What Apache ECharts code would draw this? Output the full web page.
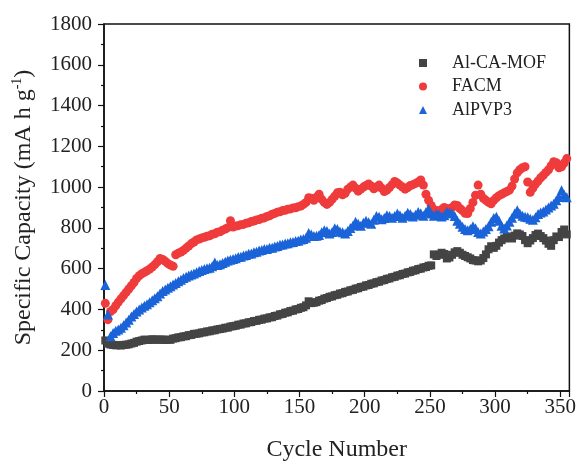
<!DOCTYPE html>
<html>
<head>
<meta charset="utf-8">
<script src="https://cdn.jsdelivr.net/npm/echarts@6/dist/echarts.min.js"></script>
<style>
  html, body { margin: 0; padding: 0; background: #fff; }
  #chart { width: 579px; height: 467px; }
</style>
</head>
<body>
<div id="chart"></div>
<script>
  'use strict'

  // one reading every 2 cycles, starting at cycle 1 (1, 3, 5 ... 355)
  const FIRST_CYCLE = 1
  const CYCLE_STEP = 2

  const SERIES_NAMES = ['Al-CA-MOF', 'FACM', 'AlPVP3']

  const AL_CA_MOF = [
    248, 232, 228, 226, 224, 225, 223, 226, 227, 229,
    233, 236, 242, 245, 248, 252, 251, 250, 254, 252,
    251, 253, 252, 250, 252, 251, 257, 259, 263, 264,
    268, 269, 274, 275, 280, 281, 283, 287, 288, 292,
    293, 297, 298, 302, 304, 306, 310, 311, 316, 318,
    320, 325, 326, 331, 332, 337, 338, 343, 344, 349,
    350, 355, 356, 361, 362, 368, 370, 376, 378, 384,
    386, 392, 394, 400, 402, 408, 411, 420, 440, 431,
    433, 436, 443, 446, 453, 456, 462, 464, 470, 472,
    478, 480, 486, 488, 494, 496, 502, 504, 510, 512,
    518, 520, 526, 528, 534, 536, 542, 544, 550, 552,
    558, 560, 566, 568, 574, 576, 582, 584, 590, 592,
    598, 600, 606, 608, 614, 616, 670, 662, 668, 678,
    672, 650, 655, 668, 680, 686, 678, 668, 662, 656,
    650, 642, 640, 636, 640, 652, 670, 695, 710, 702,
    712, 728, 740, 748, 758, 752, 748, 762, 773, 768,
    760, 740, 725, 738, 750, 765, 772, 760, 750, 738,
    722, 712, 740, 758, 755, 780, 792, 768
  ]

  const FACM = [
    430, 350, 390, 400, 418, 436, 452, 468, 484, 500,
    516, 532, 552, 565, 575, 582, 590, 598, 608, 620,
    634, 650, 645, 636, 625, 618, 612, 668, 676, 682,
    690, 701, 711, 723, 731, 741, 745, 751, 754, 759,
    761, 769, 771, 779, 781, 789, 794, 801, 835, 804,
    809, 811, 816, 817, 823, 825, 831, 834, 839, 841,
    847, 849, 856, 859, 867, 871, 877, 879, 885, 886,
    892, 893, 898, 899, 904, 907, 915, 925, 948, 945,
    935, 950, 965, 940, 925, 915, 925, 940, 955, 972,
    975, 962, 970, 990, 1000, 1010, 995, 980, 990, 1000,
    1008, 1015, 1005, 992, 1000, 1010, 995, 978, 985, 998,
    1012, 1028, 1020, 1010, 1000, 990, 998, 1008, 1012, 1018,
    1025, 1035, 1010, 965, 935, 910, 890, 885, 880, 890,
    900, 895, 890, 900, 912, 910, 895, 885, 872, 870,
    895, 925, 960, 1010, 965, 945, 935, 925, 918, 935,
    948, 958, 965, 972, 978, 985, 1005, 1040, 1070, 1085,
    1095, 1100, 1025, 975, 995, 1015, 1030, 1046, 1058, 1072,
    1085, 1105, 1125, 1120, 1095, 1100, 1118, 1140
  ]

  const ALPVP3 = [
    520, 375, 268, 285, 295, 302, 310, 322, 336, 350,
    365, 378, 390, 400, 410, 418, 426, 435, 445, 455,
    465, 478, 490, 498, 506, 514, 522, 530, 538, 546,
    554, 560, 566, 571, 576, 582, 588, 593, 598, 602,
    605, 612, 630, 618, 622, 628, 634, 640, 644, 648,
    651, 657, 659, 665, 667, 673, 675, 681, 683, 689,
    691, 696, 697, 702, 703, 709, 711, 717, 719, 724,
    725, 730, 731, 736, 737, 743, 745, 752, 775, 768,
    760, 762, 765, 778, 788, 785, 772, 780, 798, 795,
    782, 778, 772, 785, 800, 812, 830, 820, 810, 825,
    835, 828, 820, 840, 858, 855, 842, 848, 862, 858,
    850, 858, 870, 862, 850, 860, 874, 868, 856, 865,
    878, 872, 860, 878, 893, 870, 860, 868, 865, 856,
    862, 878, 875, 870, 858, 835, 820, 805, 795, 788,
    795, 808, 798, 780, 773, 782, 795, 808, 830, 848,
    855, 835, 810, 797, 812, 830, 850, 870, 887, 870,
    860, 855, 852, 845, 840, 852, 868, 875, 880, 890,
    900, 910, 918, 935, 952, 984, 962, 950
  ]

  const COLORS = ['#444444', '#ef3b3b', '#1a63d8']
  const SYMBOLS = ['rect', 'circle', 'triangle']
  const SYMBOL_SIZES = [8, 9, 10]

  const FONT = 'Liberation Serif'

  function toPoints (values) {
    return values.map((v, i) => [FIRST_CYCLE + i * CYCLE_STEP, v])
  }

  function buildSeries () {
    return [AL_CA_MOF, FACM, ALPVP3].map((values, i) => ({
      name: SERIES_NAMES[i],
      type: 'scatter',
      symbol: SYMBOLS[i],
      symbolSize: SYMBOL_SIZES[i],
      itemStyle: { color: COLORS[i], opacity: 1 },
      emphasis: { disabled: true },
      data: toPoints(values)
    }))
  }

  function plainNumber (v) {
    return String(v)
  }

  const chart = echarts.init(document.getElementById('chart'), null, { renderer: 'canvas' })

  const axisCommon = {
    axisLine: { show: true, onZero: false, lineStyle: { color: '#111', width: 1.5 } },
    axisTick: { show: true, inside: false, length: 6, lineStyle: { color: '#111', width: 1.2 } },
    minorTick: { show: true, splitNumber: 2, length: 3, lineStyle: { color: '#111', width: 1.2 } },
    splitLine: { show: false },
    nameLocation: 'middle'
  }

  chart.setOption({
    animation: false,
    backgroundColor: '#fff',
    grid: {
      left: 104, right: 9, top: 24, bottom: 69,
      show: true, borderColor: '#111', borderWidth: 1.5
    },
    legend: {
      orient: 'vertical',
      left: 414,
      top: 49,
      itemWidth: 8,
      itemHeight: 8,
      itemGap: 5.5,
      data: SERIES_NAMES.map((name, i) => ({ name, icon: SYMBOLS[i] })),
      textStyle: { fontFamily: FONT, fontSize: 18, color: '#222', lineHeight: 18, padding: [0, 0, 0, 20] }
    },
    xAxis: Object.assign({}, axisCommon, {
      type: 'value',
      min: 0,
      max: 357,
      interval: 50,
      name: 'Cycle Number',
      nameGap: 47,
      nameTextStyle: { fontFamily: FONT, fontSize: 24, color: '#222' },
      axisLabel: { fontFamily: FONT, fontSize: 21, color: '#222', margin: 6, showMaxLabel: false, formatter: plainNumber }
    }),
    yAxis: Object.assign({}, axisCommon, {
      type: 'value',
      min: 0,
      max: 1800,
      interval: 200,
      name: '{t|Specific Capacity (mA h g}{s|-1}{t|)}',
      nameGap: 66,
      nameTextStyle: {
        fontFamily: FONT,
        fontSize: 24,
        color: '#222',
        rich: {
          t: { fontFamily: FONT, fontSize: 24, color: '#222', lineHeight: 28 },
          s: { fontFamily: FONT, fontSize: 14, color: '#222', lineHeight: 28, verticalAlign: 'top', padding: [0, 0, 10, 0] }
        }
      },
      axisLabel: { fontFamily: FONT, fontSize: 21, color: '#222', margin: 12, formatter: plainNumber }
    }),
    series: buildSeries()
  })
</script>
</body>
</html>
